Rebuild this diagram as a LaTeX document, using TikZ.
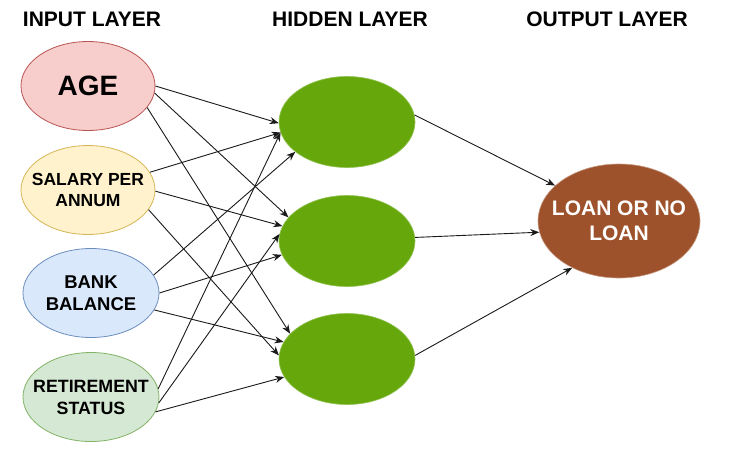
\documentclass[tikz,border=0pt]{standalone}
\usepackage{fontspec}
\setmainfont{Liberation Sans}
\usetikzlibrary{arrows.meta,shapes.geometric}
\definecolor{agefill}{HTML}{F8CECC}
\definecolor{agedraw}{HTML}{B85450}
\definecolor{salfill}{HTML}{FFF2CC}
\definecolor{saldraw}{HTML}{D6B656}
\definecolor{bankfill}{HTML}{DAE8FC}
\definecolor{bankdraw}{HTML}{6C8EBF}
\definecolor{retfill}{HTML}{D5E8D4}
\definecolor{retdraw}{HTML}{82B366}
\definecolor{hidfill}{HTML}{66A80C}
\definecolor{outfill}{HTML}{9E522B}
\definecolor{edgecol}{HTML}{1A1A1A}
\tikzset{
  inputnode/.style={ellipse, minimum width=134pt, minimum height=89pt, inner sep=0pt, line width=0.8pt},
  hiddennode/.style={ellipse, minimum width=136pt, minimum height=91pt, inner sep=0pt, fill=hidfill, draw=hidfill!70!white, line width=0.6pt},
  outnode/.style={ellipse, minimum width=162pt, minimum height=114pt, inner sep=0pt, fill=outfill, draw=outfill!60!white, line width=0.6pt},
  nodetext/.style={inner sep=0pt, align=center},
  titletext/.style={font=\fontsize{21}{24}\bfseries\selectfont, inner sep=0pt},
  conn/.style={draw=edgecol, line width=0.9pt, -{Stealth[length=9pt,width=7pt]}}
}
\begin{document}
\begin{tikzpicture}[x=1pt,y=-1pt]
\useasboundingbox (0,0) rectangle (743,452);
\fill[white] (0,0) rectangle (743,452);
% titles
\node[titletext] (t1) at (92,19) {INPUT LAYER};
\node[titletext] (t2) at (350,19) {HIDDEN LAYER};
\node[titletext] (t3) at (607,19) {OUTPUT LAYER};
% input nodes
\node[inputnode, fill=agefill, draw=agedraw] (age) at (88,86) {};
\node[nodetext, font=\fontsize{28}{30}\bfseries\selectfont] (agetxt) at (age.center) {AGE};
\node[inputnode, fill=salfill, draw=saldraw] (sal) at (88,190) {};
\node[nodetext, font=\fontsize{17.5}{21}\bfseries\selectfont] (saltxt) at (sal.center) {SALARY PER\\ANNUM};
\node[inputnode, fill=bankfill, draw=bankdraw, minimum width=136pt] (bank) at (91,293) {};
\node[nodetext, font=\fontsize{18.5}{22}\bfseries\selectfont] (banktxt) at (bank.center) {BANK\\BALANCE};
\node[inputnode, fill=retfill, draw=retdraw, minimum width=136pt] (ret) at (91,397) {};
\node[nodetext, font=\fontsize{17.8}{22}\bfseries\selectfont] (rettxt) at (ret.center) {RETIREMENT\\STATUS};
% hidden nodes
\node[hiddennode] (h1) at (347,122) {};
\node[hiddennode] (h2) at (347,241) {};
\node[hiddennode] (h3) at (347,359) {};
% output node
\node[outnode] (out) at (619,221) {};
\node[nodetext, text=white, font=\fontsize{21}{25}\bfseries\selectfont] (outtxt) at (out.center) {LOAN OR NO\\LOAN};
% input -> hidden
\draw[conn] (age.0) -- (h1.181);
\draw[conn] (age.-6) -- (h2.158);
\draw[conn] (age.-20) -- (h3.156);
\draw[conn] (sal.16) -- (h1.189);
\draw[conn] (sal.-1) -- (h2.167);
\draw[conn] (sal.-18) -- (h3.177);
\draw[conn] (bank.16) -- (h1.210);
\draw[conn] (bank.0) -- (h2.192);
\draw[conn] (bank.-15) -- (h3.165);
\draw[conn] (ret.7) -- (h1.189);
\draw[conn] (ret.-5) -- (h2.174);
\draw[conn] (ret.-13) -- (h3.196);
% hidden -> output
\draw[conn] (h1.6) -- (out.151);
\draw[conn] (h2.3) -- (out.188);
\draw[conn] (h3.3) -- (out.225);
\end{tikzpicture}
\end{document}
